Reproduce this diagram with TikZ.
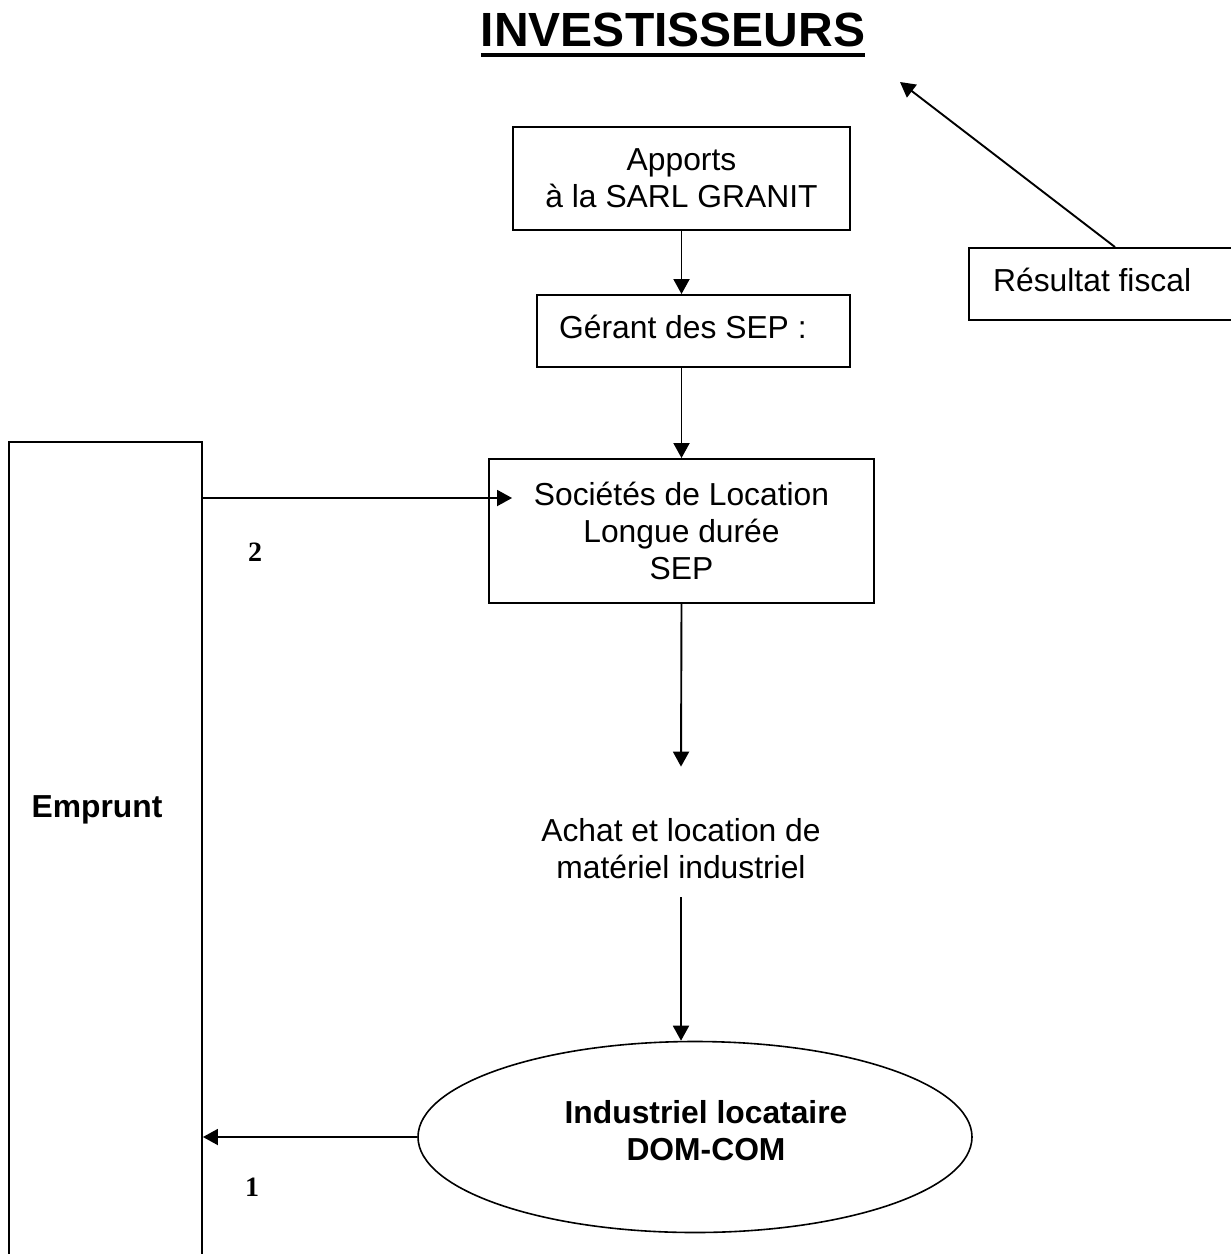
\documentclass[tikz,border=0pt]{standalone}
\usepackage{fontspec}
\setmainfont{Liberation Sans}
\newfontfamily\numfont{Liberation Serif}
\usetikzlibrary{arrows.meta,shapes.geometric}
\begin{document}
\begin{tikzpicture}[x=1pt,y=-1pt,
  box/.style={draw, line width=1.9pt, inner sep=0pt},
  txt/.style={font=\fontsize{31.8}{37}\selectfont, align=center, inner sep=0pt},
  btxt/.style={font=\bfseries\fontsize{31.8}{37}\selectfont, align=center, inner sep=0pt},
  numtxt/.style={font=\numfont\bfseries\fontsize{28}{30}\selectfont, inner sep=0pt},
  arr/.style={line width=1.9pt, -{Triangle[length=15pt,width=16pt]}}]
\useasboundingbox (0,0) rectangle (1231,1254);
\clip (0,0) rectangle (1231,1254);

% title
\node[font=\bfseries\fontsize{48}{56}\selectfont, inner sep=0pt, anchor=base] (title) at (673,46) {INVESTISSEURS};
\draw[line width=4pt] ([yshift=-9pt]title.base west) -- ([yshift=-9pt]title.base east);

% boxes
\node[box, minimum width=337pt, minimum height=103pt, txt] (app) at (681.5,178.5) {Apports\\à la SARL GRANIT};
\node[box, minimum width=313pt, minimum height=72pt] (ger) at (693.5,331) {};
\node[txt, anchor=west] (gertxt) at (559,327) {Gérant des SEP :};
\node[box, minimum width=385pt, minimum height=144pt, txt] (soc) at (681.5,531) {Sociétés de Location\\Longue durée\\SEP};
\node[box, minimum width=276pt, minimum height=72pt] (res) at (1107,284) {};
\node[txt, anchor=west] (restxt) at (993,280) {Résultat fiscal};
\node[box, minimum width=193pt, minimum height=820pt] (emp) at (105.5,852) {};
\node[btxt] (emptxt) at (97,810) {Emprunt};

\node[txt] (achat) at (681,849) {Achat et location de\\matériel industriel};

\node[draw, ellipse, line width=1.6pt, minimum width=554pt, minimum height=191pt, inner sep=0pt] (ell) at (695,1137) {};
\node[btxt] (elltxt) at (706,1131) {Industriel locataire\\DOM-COM};

\node[numtxt] (n2) at (255,552) {2};
\node[numtxt] (n1) at (252,1187) {1};

% connectors
\coordinate (rtip) at (900,82);
\coordinate (e2) at (202,498);
\draw[arr] (app.south) -- (app.south |- ger.north);
\draw[arr] (ger.south -| app.south) -- (app.south |- soc.north);
\draw[arr] (emp.east |- e2) -- ([xshift=24pt]soc.west |- e2);
\draw[arr] (soc.south) -- ([yshift=52pt]achat.north);
\draw[arr] ([yshift=-18pt]achat.south) -- (achat.south |- ell.north);
\draw[arr] (ell.west) -- (emp.east |- ell.west);
\draw[arr] ([xshift=8pt]res.north) -- (rtip);
\end{tikzpicture}
\end{document}
